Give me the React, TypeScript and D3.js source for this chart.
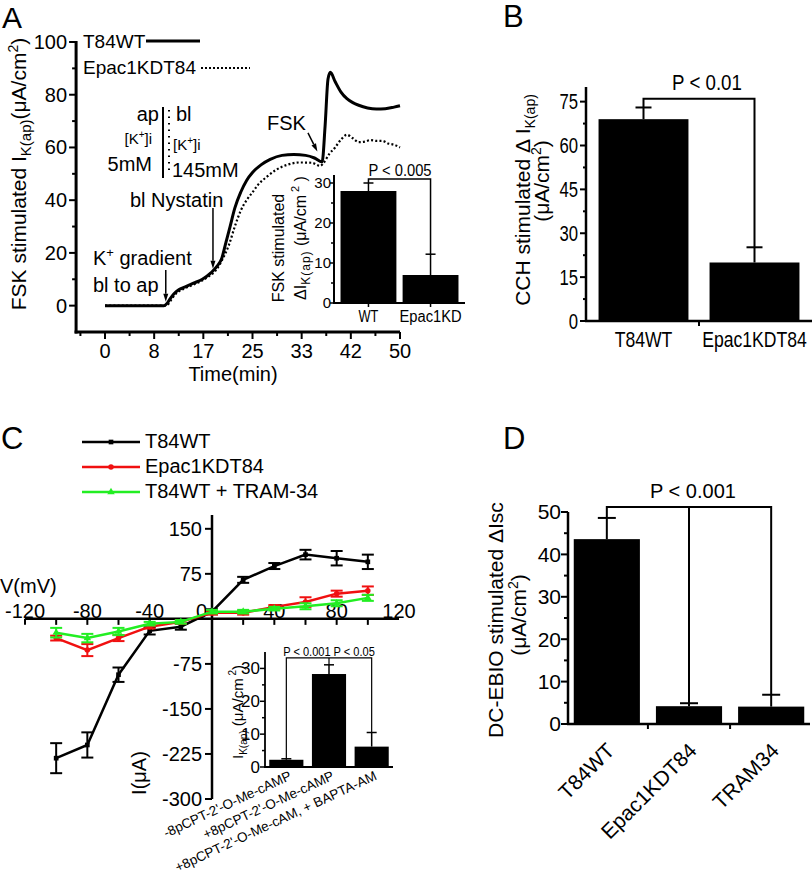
import * as d3 from 'd3';
import type { ReactNode } from 'react';

const FONT = "'Liberation Sans', Arial, Helvetica, sans-serif";
const INK = '#000';

// A: FSK-stimulated apical K+ current over time (min, uA/cm2)
const timeWT = [0, 4, 8, 10, 10.5, 11, 11.7, 12.5, 13.5, 15, 16.5, 18, 19, 19.8, 20.5, 21.2, 22, 23, 24, 25, 26.5, 28, 30, 32, 34, 35.5, 36.8, 37.3, 37.8, 38.2, 39, 40, 41, 42, 43, 44.5, 46, 47.5, 49, 50];
const currentWT = [0, 0, 0, 0, 0.8, 2.5, 4.5, 6, 7, 8.5, 10, 12.5, 15, 18, 24, 30, 37, 43, 47.5, 50.5, 53.5, 55.5, 57, 57.3, 57, 56, 54.5, 68, 86, 88.5, 85, 81, 78.5, 77, 76, 75, 74.6, 74.7, 75.3, 75.8];
const timeKD = [0, 4, 8, 10, 10.7, 11.3, 12, 13, 14.5, 16, 17.5, 19, 20, 21, 22, 23, 24, 25, 26, 27.5, 29, 31, 33, 35, 36.5, 37, 38, 39, 40, 41, 42, 43, 44, 45, 46, 47, 48, 49, 50];
const currentKD = [0, 0, 0, 0, 0.5, 2.5, 4.5, 6, 7.5, 9, 11, 14, 18, 23, 30, 36, 40, 43, 46, 49, 51.5, 53.5, 54.3, 54.2, 53, 54, 57.5, 60, 63, 64.8, 63.5, 62, 62.2, 62.8, 62.5, 62.5, 61.5, 61, 60];
const timeTickLabels = ['0', '8', '17', '25', '33', '42', '50'];
const currentTicksA = [0, 20, 40, 60, 80, 100];

// A inset
const insetAGroups = ['WT', 'Epac1KD'];
const insetAMeans = [28, 7];
const insetAErrors = [2, 5.2];
const insetATicks = [0, 10, 20, 30];

// B
const groupsB = ['T84WT', 'Epac1KDT84'];
const meansB = [69, 20];
const errorsB = [4, 5.2];
const ticksB = [0, 15, 30, 45, 60, 75];

// C: I/V relation
const voltages = [-100, -80, -60, -40, -20, 0, 20, 40, 60, 80, 100];
const ivWT = [-232, -210, -93, -20, -13, 12, 65, 88, 107, 101, 95];
const ivWTErr = [25, 21, 12, 6, 5, 4, 5, 5, 8, 12, 12];
const ivKD = [-32, -52, -32, -13, -5, 10, 10, 20, 28, 42, 47];
const ivKDErr = [4, 10, 5, 3, 3, 3, 3, 3, 8, 5, 7];
const ivTram = [-23, -32, -21, -8, -5, 12, 12, 17, 21, 26, 35];
const ivTramErr = [8, 7, 6, 3, 3, 3, 3, 3, 5, 5, 5];
const voltTicks = [-120, -80, -40, 40, 80, 120];
const currentTicksC = [150, 75, -75, -150, -225, -300];

// C inset
const insetCGroups = ["-8pCPT-2'-O-Me-cAMP", "+8pCPT-2'-O-Me-cAMP", "+8pCPT-2'-O-Me-cAM, + BAPTA-AM"];
const insetCMeans = [2.2, 28.3, 6.2];
const insetCErrors = [0.3, 2.8, 4.3];
const insetCTicks = [0, 10, 20, 30];

// D
const groupsD = ['T84WT', 'Epac1KDT84', 'TRAM34'];
const meansD = [43.6, 4.2, 4.1];
const errorsD = [5, 0.7, 2.8];
const ticksD = [0, 10, 20, 30, 40, 50];

// condensed text (no narrow font installed, so squeeze horizontally)
function Narrow({ x, y, size, anchor = 'start', sx = 0.8, dy, children }: {
  x: number; y: number; size: number; anchor?: string; sx?: number; dy?: string; children: ReactNode;
}) {
  return (
    <text transform={`translate(${x},${y}) scale(${sx},1)`} textAnchor={anchor} fontSize={size} dy={dy}>
      {children}
    </text>
  );
}

function Arrow({ x1, y1, x2, y2 }: { x1: number; y1: number; x2: number; y2: number }) {
  const a = Math.atan2(y2 - y1, x2 - x1);
  const h = 8;
  const w = 2.5;
  const bx = x2 - h * Math.cos(a);
  const by = y2 - h * Math.sin(a);
  const pts = [
    [x2, y2],
    [bx + w * Math.sin(a), by - w * Math.cos(a)],
    [bx - w * Math.sin(a), by + w * Math.cos(a)],
  ];
  return (
    <g>
      <line x1={x1} y1={y1} x2={bx} y2={by} stroke={INK} strokeWidth={1.5} />
      <polygon points={pts.map(p => p.join(',')).join(' ')} fill={INK} />
    </g>
  );
}

function PanelA() {
  const x = d3.scaleLinear().domain([0, 50]).range([105, 400]);
  const y = d3.scaleLinear().domain([-10, 100]).range([332, 42]);
  const step = 50 / 6;
  const major = timeTickLabels.map((_, i) => i * step);
  const minor = d3.range(-1, 6).map(i => i * step + step / 2);
  const minorY = d3.range(10, 100, 20);
  const left = x(-4.9);
  const bottom = y(-10);
  const line = d3
    .line<[number, number]>()
    .x(d => x(d[0]))
    .y(d => y(d[1]))
    .curve(d3.curveMonotoneX);
  const wt = d3.zip(timeWT, currentWT) as [number, number][];
  const kd = d3.zip(timeKD, currentKD) as [number, number][];

  return (
    <g>
      <text x={2} y={28} fontSize={30}>A</text>

      <path d={line(kd) ?? ''} fill="none" stroke={INK} strokeWidth={2.2} strokeDasharray="2 2.2" />
      <path d={line(wt) ?? ''} fill="none" stroke={INK} strokeWidth={3} />

      <line x1={left} x2={left} y1={bottom + 1.5} y2={y(100) - 1} stroke={INK} strokeWidth={3} />
      <line x1={left - 1.5} x2={x(50)} y1={bottom} y2={bottom} stroke={INK} strokeWidth={3} />
      {currentTicksA.map(v => (
        <g key={v}>
          <line x1={left - 7} x2={left} y1={y(v)} y2={y(v)} stroke={INK} strokeWidth={2} />
          <text x={left - 9} y={y(v)} dy="0.35em" textAnchor="end" fontSize={20}>{v}</text>
        </g>
      ))}
      {minorY.map(v => (
        <line key={v} x1={left - 4} x2={left} y1={y(v)} y2={y(v)} stroke={INK} strokeWidth={2} />
      ))}
      {major.map((t, i) => (
        <g key={i}>
          <line x1={x(t)} x2={x(t)} y1={bottom} y2={bottom + 7} stroke={INK} strokeWidth={2} />
          <text x={x(t)} y={358} textAnchor="middle" fontSize={20}>{timeTickLabels[i]}</text>
        </g>
      ))}
      {minor.map(t => (
        <line key={t} x1={x(t)} x2={x(t)} y1={bottom} y2={bottom + 4} stroke={INK} strokeWidth={2} />
      ))}
      <text x={233} y={381} textAnchor="middle" fontSize={20}>Time(min)</text>
      <text transform="translate(26,174) rotate(-90)" textAnchor="middle" fontSize={21}>
        FSK stimulated I<tspan fontSize={15} dy={5}>K(ap)</tspan>
        <tspan dy={-5}>(μA/cm</tspan>
        <tspan fontSize={14} dy={-8}>2</tspan>
        <tspan dy={8}>)</tspan>
      </text>

      {/* legend */}
      <text x={83} y={48} fontSize={19}>T84WT</text>
      <line x1={146} x2={200} y1={41} y2={41} stroke={INK} strokeWidth={3} />
      <text x={83} y={74} fontSize={19}>Epac1KDT84</text>
      <line x1={201} x2={250} y1={68} y2={68} stroke={INK} strokeWidth={2} strokeDasharray="2 2" />

      {/* solution scheme */}
      <text x={159} y={121} textAnchor="end" fontSize={20}>ap</text>
      <text x={176} y={121} fontSize={20}>bl</text>
      <line x1={163} x2={163} y1={107} y2={178} stroke={INK} strokeWidth={2} />
      <line x1={169} x2={169} y1={110} y2={174} stroke={INK} strokeWidth={2} strokeDasharray="1.5 5" />
      <text x={152} y={144} textAnchor="end" fontSize={15}>
        [K<tspan fontSize={10} dy={-6}>+</tspan><tspan dy={6}>]i</tspan>
      </text>
      <text x={173} y={150} fontSize={15}>
        [K<tspan fontSize={10} dy={-6}>+</tspan><tspan dy={6}>]i</tspan>
      </text>
      <text x={152} y={171} textAnchor="end" fontSize={20}>5mM</text>
      <text x={172} y={177} fontSize={20}>145mM</text>

      <text x={130} y={207} fontSize={20}>bl Nystatin</text>
      <Arrow x1={x(18.3)} y1={y(37)} x2={x(18.3)} y2={y(14)} />
      <text x={93} y={265} fontSize={20}>
        K<tspan fontSize={13} dy={-8}>+</tspan><tspan dy={8}> gradient</tspan>
      </text>
      <text x={93} y={292} fontSize={20}>bl to ap</text>
      <Arrow x1={x(10.3)} y1={y(13.5)} x2={x(10.3)} y2={y(1.5)} />
      <text x={267} y={130} fontSize={20}>FSK</text>
      <Arrow x1={x(34.4)} y1={y(65.5)} x2={x(36)} y2={y(58.5)} />

      <InsetA />
    </g>
  );
}

function InsetA() {
  const x = d3.scaleBand().domain(insetAGroups).range([334, 465]).paddingInner(0.1).paddingOuter(0.105);
  const y = d3.scaleLinear().domain([0, 32]).range([303, 175]);
  const bw = x.bandwidth();
  const cx = (g: string) => (x(g) ?? 0) + bw / 2;
  const tops = insetAMeans.map((m, i) => m + insetAErrors[i]);
  const level = y(31);
  return (
    <g>
      {insetAGroups.map((g, i) => (
        <g key={g}>
          <rect x={x(g)} y={y(insetAMeans[i])} width={bw} height={y(0) - y(insetAMeans[i])} fill={INK} />
          <line x1={cx(g)} x2={cx(g)} y1={y(insetAMeans[i])} y2={y(tops[i])} stroke={INK} strokeWidth={1.5} />
          <line x1={cx(g) - 5} x2={cx(g) + 5} y1={y(tops[i])} y2={y(tops[i])} stroke={INK} strokeWidth={1.5} />
          <line x1={cx(g)} x2={cx(g)} y1={y(0)} y2={y(0) + 4} stroke={INK} strokeWidth={1.5} />
          <Narrow x={cx(g)} y={322} size={16} anchor="middle" sx={g === 'WT' ? 0.8 : 0.92}>{g}</Narrow>
        </g>
      ))}
      <path
        d={`M${cx(insetAGroups[0])},${y(tops[0])}V${level}H${cx(insetAGroups[1])}V${y(tops[1])}`}
        fill="none"
        stroke={INK}
        strokeWidth={1.5}
      />
      <Narrow x={400} y={176} size={16} anchor="middle" sx={0.92}>P &lt; 0.005</Narrow>
      <line x1={334} x2={334} y1={y(0) + 1} y2={y(32)} stroke={INK} strokeWidth={2} />
      <line x1={333} x2={465} y1={y(0)} y2={y(0)} stroke={INK} strokeWidth={2} />
      {insetATicks.map(v => (
        <g key={v}>
          <line x1={330} x2={334} y1={y(v)} y2={y(v)} stroke={INK} strokeWidth={1.5} />
          <text x={331} y={y(v)} dy="0.35em" textAnchor="end" fontSize={15}>{v}</text>
        </g>
      ))}
      {[5, 15, 25].map(v => (
        <line key={v} x1={331} x2={334} y1={y(v)} y2={y(v)} stroke={INK} strokeWidth={1.5} />
      ))}
      <text transform="translate(284,248) rotate(-90)" textAnchor="middle" fontSize={16}>FSK stimulated</text>
      <text transform="translate(306,238) rotate(-90)" textAnchor="middle" fontSize={16}>
        ΔI<tspan fontSize={12} dy={4} letterSpacing={1}>K(ap)</tspan>
        <tspan dy={-4}> (μA/cm</tspan>
        <tspan fontSize={11} dy={-7}> 2</tspan>
        <tspan dy={7}> )</tspan>
      </text>
    </g>
  );
}

function PanelB() {
  const x = d3.scaleBand().domain(groupsB).range([586, 812]).paddingInner(0.19).paddingOuter(0.113);
  const y = d3.scaleLinear().domain([0, 80]).range([321, 87]);
  const bw = x.bandwidth();
  const cx = (g: string) => (x(g) ?? 0) + bw / 2;
  const tops = meansB.map((m, i) => m + errorsB[i]);
  const level = y(76);
  const midTick = (cx(groupsB[0]) + cx(groupsB[1])) / 2;
  return (
    <g>
      <text x={503} y={27} fontSize={31}>B</text>
      {groupsB.map((g, i) => (
        <g key={g}>
          <rect x={x(g)} y={y(meansB[i])} width={bw} height={y(0) - y(meansB[i])} fill={INK} />
          <line x1={cx(g)} x2={cx(g)} y1={y(meansB[i])} y2={y(tops[i])} stroke={INK} strokeWidth={2} />
          <line x1={cx(g) - 8} x2={cx(g) + 8} y1={y(tops[i])} y2={y(tops[i])} stroke={INK} strokeWidth={2} />
          <Narrow x={cx(g)} y={347} size={22} anchor="middle" sx={0.8}>{g}</Narrow>
        </g>
      ))}
      <path
        d={`M${cx(groupsB[0])},${y(tops[0])}V${level}H${cx(groupsB[1])}V${y(tops[1])}`}
        fill="none"
        stroke={INK}
        strokeWidth={2}
      />
      <Narrow x={707} y={90} size={22} anchor="middle" sx={0.85}>P &lt; 0.01</Narrow>
      <line x1={586} x2={586} y1={y(0) + 1} y2={y(80)} stroke={INK} strokeWidth={2.5} />
      <line x1={585} x2={812} y1={y(0)} y2={y(0)} stroke={INK} strokeWidth={2.5} />
      {[midTick].map(t => (
        <line key={t} x1={t} x2={t} y1={y(0)} y2={y(0) + 5} stroke={INK} strokeWidth={2} />
      ))}
      {ticksB.map(v => (
        <g key={v}>
          <line x1={580} x2={586} y1={y(v)} y2={y(v)} stroke={INK} strokeWidth={2} />
          <Narrow x={578} y={y(v)} dy="0.35em" size={22} anchor="end" sx={0.76}>{v}</Narrow>
        </g>
      ))}
      {d3.range(7.5, 80, 15).map(v => (
        <line key={v} x1={583} x2={586} y1={y(v)} y2={y(v)} stroke={INK} strokeWidth={2} />
      ))}
      <text transform="translate(530,200) rotate(-90)" textAnchor="middle" fontSize={21}>
        CCH stimulated Δ I<tspan fontSize={14} dy={5}>K(ap)</tspan>
      </text>
      <text transform="translate(549,181) rotate(-90)" textAnchor="middle" fontSize={21}>
        (μA/cm<tspan fontSize={14} dy={-8}>2</tspan><tspan dy={8}>)</tspan>
      </text>
    </g>
  );
}

function PanelC() {
  const x = d3.scaleLinear().domain([-120, 120]).range([25, 399]);
  const y = d3.scaleLinear().domain([-300, 173]).range([799, 515]);
  const x0 = x(0);
  const y0 = y(0);
  const line = d3
    .line<[number, number]>()
    .x(d => x(d[0]))
    .y(d => y(d[1]));
  const series = [
    { name: 'T84WT', color: '#000000', values: ivWT, errs: ivWTErr, shape: d3.symbolSquare, size: 22 },
    { name: 'Epac1KDT84', color: '#f01010', values: ivKD, errs: ivKDErr, shape: d3.symbolCircle, size: 24 },
    { name: 'T84WT + TRAM-34', color: '#22ee22', values: ivTram, errs: ivTramErr, shape: d3.symbolTriangle, size: 24 },
  ];
  return (
    <g>
      <text x={1} y={449} fontSize={31}>C</text>

      {series.map((s, k) => (
        <g key={s.name}>
          <line x1={82} x2={140} y1={442 + 25 * k} y2={442 + 25 * k} stroke={s.color} strokeWidth={2.5} />
          <path d={d3.symbol(s.shape, s.size)() ?? ''} transform={`translate(111,${442 + 25 * k})`} fill={s.color} />
          <text x={145} y={448 + 25 * k} fontSize={20}>{s.name}</text>
        </g>
      ))}

      {/* axes */}
      <line x1={x(-120)} x2={x(120)} y1={y0} y2={y0} stroke={INK} strokeWidth={2.5} />
      <line x1={x0} x2={x0} y1={y(-300)} y2={y(173)} stroke={INK} strokeWidth={2.5} />
      {d3.range(-120, 101, 20).map(v => (
        <line key={v} x1={x(v)} x2={x(v)} y1={y0} y2={y0 + 6} stroke={INK} strokeWidth={2} />
      ))}
      {voltTicks.map(v => (
        <text key={v} x={x(v)} y={y0 - 1} textAnchor="middle" fontSize={20}>{v}</text>
      ))}
      <text x={x0 - 5} y={y0 - 1} textAnchor="end" fontSize={20}>0</text>
      {currentTicksC.map(v => (
        <g key={v}>
          <line x1={x0 - 7} x2={x0} y1={y(v)} y2={y(v)} stroke={INK} strokeWidth={2} />
          <text x={x0 - 10} y={y(v)} dy="0.35em" textAnchor="end" fontSize={20}>{v}</text>
        </g>
      ))}
      <text x={0} y={593} fontSize={20}>V(mV)</text>
      <text transform="translate(146,773) rotate(-90)" textAnchor="middle" fontSize={20}>I(μA)</text>

      {series.map(s => {
        const pts = d3.zip(voltages, s.values) as [number, number][];
        return (
          <g key={s.name}>
            <path d={line(pts) ?? ''} fill="none" stroke={s.color} strokeWidth={2.5} />
            {pts.map(([v, c], i) => (
              <g key={v} stroke={s.color} strokeWidth={2}>
                <line x1={x(v)} x2={x(v)} y1={y(c - s.errs[i])} y2={y(c + s.errs[i])} />
                <line x1={x(v) - 6} x2={x(v) + 6} y1={y(c - s.errs[i])} y2={y(c - s.errs[i])} />
                <line x1={x(v) - 6} x2={x(v) + 6} y1={y(c + s.errs[i])} y2={y(c + s.errs[i])} />
              </g>
            ))}
            {pts.map(([v, c]) => (
              <path key={v} d={d3.symbol(s.shape, s.size)() ?? ''} transform={`translate(${x(v)},${y(c)})`} fill={s.color} />
            ))}
          </g>
        );
      })}

      <InsetC />
    </g>
  );
}

function InsetC() {
  const x = d3.scaleBand().domain(insetCGroups).range([265, 393]).paddingInner(0.2).paddingOuter(0.1);
  const y = d3.scaleLinear().domain([0, 35]).range([767, 652]);
  const bw = x.bandwidth();
  const cx = (g: string) => (x(g) ?? 0) + bw / 2;
  const tops = insetCMeans.map((m, i) => m + insetCErrors[i]);
  const level = y(33.2);
  return (
    <g>
      {insetCGroups.map((g, i) => (
        <g key={g}>
          <rect x={x(g)} y={y(insetCMeans[i])} width={bw} height={y(0) - y(insetCMeans[i])} fill={INK} />
          <line x1={cx(g)} x2={cx(g)} y1={y(insetCMeans[i])} y2={y(tops[i])} stroke={INK} strokeWidth={1.5} />
          <line x1={cx(g) - 5} x2={cx(g) + 5} y1={y(tops[i])} y2={y(tops[i])} stroke={INK} strokeWidth={1.5} />
          <text transform={`translate(${cx(g) + 6},779) rotate(-25)`} textAnchor="end" fontSize={13.5}>{g}</text>
        </g>
      ))}
      <path
        d={`M${cx(insetCGroups[0])},${y(tops[0])}V${level}H${cx(insetCGroups[2])}V${y(tops[2])}M${cx(insetCGroups[1])},${level}V${y(tops[1])}`}
        fill="none"
        stroke={INK}
        strokeWidth={1.2}
      />
      <Narrow x={329} y={656} size={13} anchor="middle" sx={0.85}>P &lt; 0.001 P &lt; 0.05</Narrow>
      <line x1={265} x2={265} y1={y(0) + 1} y2={y(35)} stroke={INK} strokeWidth={1.8} />
      <line x1={264} x2={393} y1={y(0)} y2={y(0)} stroke={INK} strokeWidth={1.8} />
      {insetCTicks.map(v => (
        <g key={v}>
          <line x1={260} x2={265} y1={y(v)} y2={y(v)} stroke={INK} strokeWidth={1.5} />
          <text x={260} y={y(v)} dy="0.35em" textAnchor="end" fontSize={17}>{v}</text>
        </g>
      ))}
      {[5, 15, 25].map(v => (
        <line key={v} x1={262} x2={265} y1={y(v)} y2={y(v)} stroke={INK} strokeWidth={1.5} />
      ))}
      <text transform="translate(243,712) rotate(-90)" textAnchor="middle" fontSize={15}>
        I<tspan fontSize={10} dy={4}>K(ap)</tspan>
        <tspan dy={-4}> (μA/cm</tspan>
        <tspan fontSize={10} dy={-7}> 2</tspan>
        <tspan dy={7}>)</tspan>
      </text>
    </g>
  );
}

function PanelD() {
  const x = d3.scaleBand().domain(groupsD).range([568, 810]).paddingInner(0.195).paddingOuter(0.07);
  const y = d3.scaleLinear().domain([0, 50]).range([724, 512]);
  const bw = x.bandwidth();
  const cx = (g: string) => (x(g) ?? 0) + bw / 2;
  const tops = meansD.map((m, i) => m + errorsD[i]);
  const level = y(51.2);
  const gapTicks = groupsD.slice(1).map(g => (x(g) ?? 0) - (x.step() - bw) / 2);
  return (
    <g>
      <text x={503} y={449} fontSize={31}>D</text>
      {groupsD.map((g, i) => (
        <g key={g}>
          <rect x={x(g)} y={y(meansD[i])} width={bw} height={y(0) - y(meansD[i])} fill={INK} />
          <line x1={cx(g)} x2={cx(g)} y1={y(meansD[i])} y2={y(tops[i])} stroke={INK} strokeWidth={2} />
          <line x1={cx(g) - 9} x2={cx(g) + 9} y1={y(tops[i])} y2={y(tops[i])} stroke={INK} strokeWidth={2} />
          <text transform={`translate(${cx(g) + 9},752) rotate(-45)`} textAnchor="end" fontSize={21}>{g}</text>
        </g>
      ))}
      <path
        d={`M${cx(groupsD[0])},${y(tops[0])}V${level}H${cx(groupsD[2])}V${y(tops[2])}M${cx(groupsD[1])},${level}V${y(tops[1])}`}
        fill="none"
        stroke={INK}
        strokeWidth={2}
      />
      <text x={693} y={498} textAnchor="middle" fontSize={20}>P &lt; 0.001</text>
      <line x1={568} x2={568} y1={y(0) + 1} y2={y(50)} stroke={INK} strokeWidth={2.5} />
      <line x1={567} x2={810} y1={y(0)} y2={y(0)} stroke={INK} strokeWidth={2.5} />
      {gapTicks.map(t => (
        <line key={t} x1={t} x2={t} y1={y(0)} y2={y(0) + 5} stroke={INK} strokeWidth={2} />
      ))}
      {ticksD.map(v => (
        <g key={v}>
          <line x1={561} x2={568} y1={y(v)} y2={y(v)} stroke={INK} strokeWidth={2} />
          <text x={561} y={y(v)} dy="0.35em" textAnchor="end" fontSize={21}>{v}</text>
        </g>
      ))}
      {d3.range(5, 50, 10).map(v => (
        <line key={v} x1={564} x2={568} y1={y(v)} y2={y(v)} stroke={INK} strokeWidth={2} />
      ))}
      <text transform="translate(503,620) rotate(-90)" textAnchor="middle" fontSize={21}>DC-EBIO stimulated ΔIsc</text>
      <text transform="translate(526,615) rotate(-90)" textAnchor="middle" fontSize={21}>
        (μA/cm<tspan fontSize={14} dy={-8}>2</tspan><tspan dy={8}>)</tspan>
      </text>
    </g>
  );
}

export default function App() {
  return (
    <svg
      width={812}
      height={874}
      viewBox="0 0 812 874"
      style={{ position: 'absolute', left: 0, top: 0, display: 'block' }}
      fontFamily={FONT}
    >
      <rect width={812} height={874} fill="#fff" />
      <PanelA />
      <PanelB />
      <PanelC />
      <PanelD />
    </svg>
  );
}
